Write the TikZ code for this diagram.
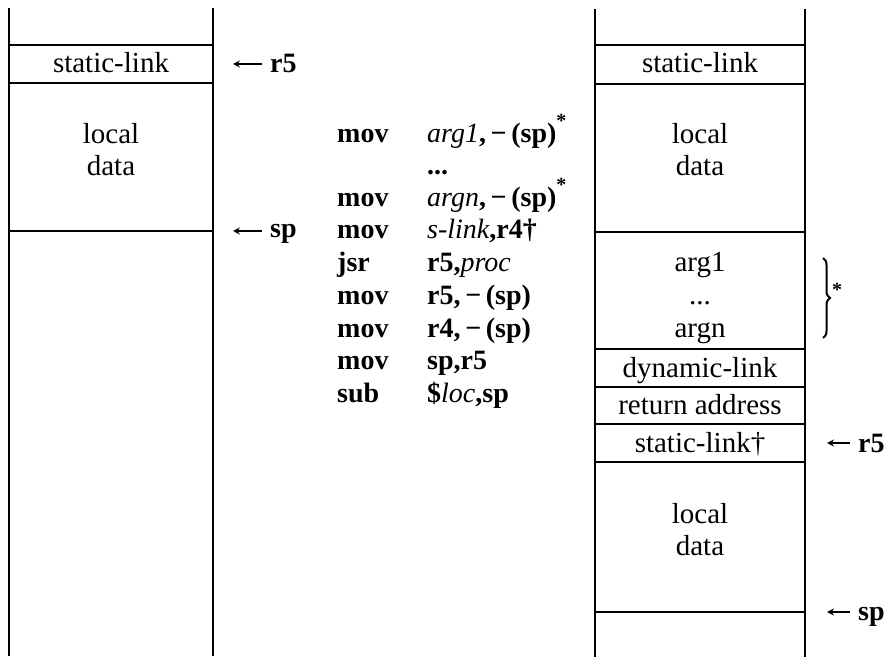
\documentclass[tikz,border=0pt]{standalone}
\usepackage{fontspec}
\setmainfont{Liberation Serif}
\usetikzlibrary{arrows.meta,decorations.pathreplacing}

% medium-weight italic inside bold code lines
\newcommand{\ia}[1]{{\mdseries\itshape #1}}
% raised footnote mark after an instruction
\newcommand{\fmark}{\raisebox{15pt}{\fontsize{20}{20}\selectfont *}}

\begin{document}
\begin{tikzpicture}[x=1pt,y=-1pt,
  wall/.style={line width=2.1pt},
  sep/.style={line width=1.7pt},
  cell/.style={font=\fontsize{29}{32}\selectfont, anchor=base, inner sep=0pt},
  code/.style={font=\fontsize{28}{32}\selectfont\bfseries, anchor=base west, inner sep=0pt},
  ptr/.style={line width=1.4pt, -{Stealth[length=7pt,width=7pt,inset=2.5pt]}}]
\useasboundingbox (0,0) rectangle (891,660);

% ---- stack before the call ----
\draw[wall] (9,8) -- (9,656);
\draw[wall] (213,8) -- (213,656);
\foreach \y in {45,83,231} \draw[sep] (9,\y) -- (213,\y);
\node[cell] (lsl)   at (111,73)  {static-link};
\node[cell] (lloc)  at (111,144) {local};
\node[cell] (ldata) at (111,176) {data};

\node[code] (lr5) at (270,73)  {r5};
\node[code] (lsp) at (270,238) {sp};
\coordinate (lr5tip) at (233,64);
\coordinate (lsptip) at (233,231);
\draw[ptr] ([xshift=-8pt,yshift=9pt]lr5.base west) -- (lr5tip);
\draw[ptr] ([xshift=-8pt,yshift=7pt]lsp.base west) -- (lsptip);

% ---- calling sequence ----
\node[code] (m0) at (337,143) {mov};
\node[code] (o0) at (427,143) {\ia{arg1},\,−\,(sp)\fmark};
\node[code] (o1) at (427,175) {...};
\node[code] (m2) at (337,207) {mov};
\node[code] (o2) at (427,207) {\ia{argn},\,−\,(sp)\fmark};
\node[code] (m3) at (337,239) {mov};
\node[code] (o3) at (427,239) {\ia{s-link},r4†};
\node[code] (m4) at (337,272) {jsr};
\node[code] (o4) at (427,272) {r5,\ia{proc}};
\node[code] (m5) at (337,304) {mov};
\node[code] (o5) at (427,304) {r5,\,−\,(sp)};
\node[code] (m6) at (337,337) {mov};
\node[code] (o6) at (427,337) {r4,\,−\,(sp)};
\node[code] (m7) at (337,369) {mov};
\node[code] (o7) at (427,369) {sp,r5};
\node[code] (m8) at (337,402) {sub};
\node[code] (o8) at (427,402) {\$\ia{loc},sp};

% ---- stack after the call ----
\draw[wall] (595,9) -- (595,657);
\draw[wall] (805,9) -- (805,657);
\foreach \y in {45,84,232,349,387,424,462,612} \draw[sep] (595,\y) -- (805,\y);
\node[cell] (rsl)   at (700,73)  {static-link};
\node[cell] (rloc)  at (700,144) {local};
\node[cell] (rdata) at (700,176) {data};
\node[cell] (ra1)   at (700,272) {arg1};
\node[cell] (rdots) at (700,304) {...};
\node[cell] (ran)   at (700,337) {argn};
\node[cell] (rdl)   at (700,377) {dynamic-link};
\node[cell] (rra)   at (700,414) {return address};
\node[cell] (rsl2)  at (700,452) {static-link†};
\node[cell] (rloc2) at (700,523) {local};
\node[cell] (rdata2) at (700,555) {data};

\coordinate (btop) at (823,258);
\coordinate (bbot) at (823,338);
\draw[line width=2pt, decorate, decoration={brace, amplitude=7pt}] (btop) -- (bbot);
\node[code, anchor=west] (bstar) at (832,290) {\fontsize{20}{20}\selectfont *};

\node[code] (rr5) at (858,452) {r5};
\node[code] (rsp) at (858,620) {sp};
\coordinate (rr5tip) at (827,443);
\coordinate (rsptip) at (827,612);
\draw[ptr] ([xshift=-8pt,yshift=9pt]rr5.base west) -- (rr5tip);
\draw[ptr] ([xshift=-8pt,yshift=8pt]rsp.base west) -- (rsptip);
\end{tikzpicture}
\end{document}
